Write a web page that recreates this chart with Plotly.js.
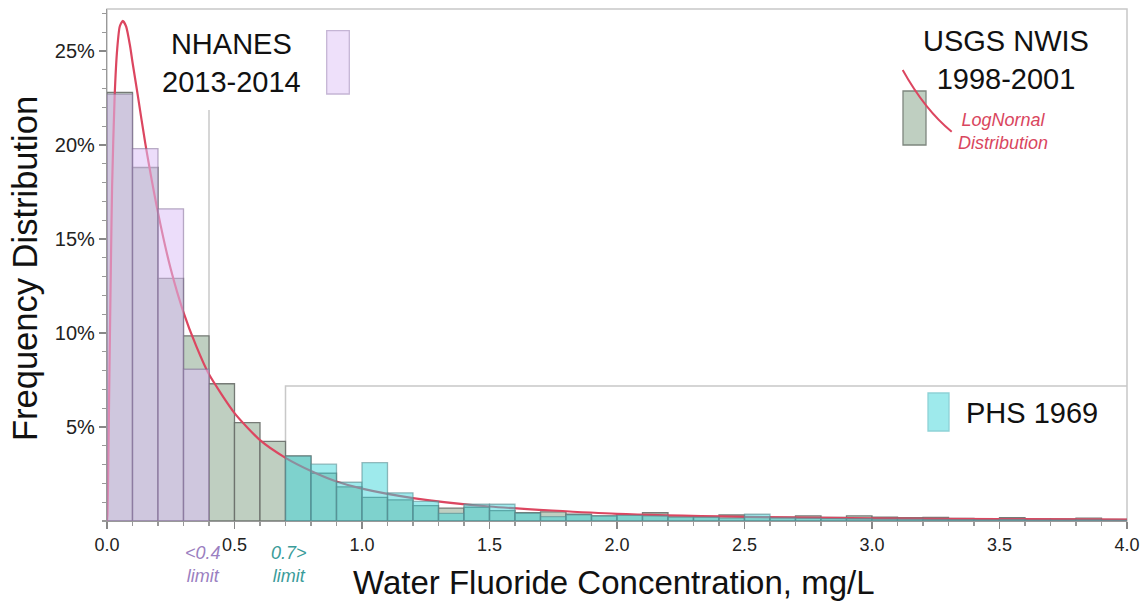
<!DOCTYPE html>
<html><head><meta charset="utf-8">
<script src="https://cdn.plot.ly/plotly-3.0.1.min.js"></script>
<style>html,body{margin:0;padding:0;background:#fff;}#chart{width:1144px;height:605px;}</style>
</head><body><div id="chart"></div>
<script>
// ---- data (percent of samples per 0.1 mg/L bin) ----
const binCenters = [0.05,0.15,0.25,0.35,0.45,0.55,0.65,0.75,0.85,0.95,1.05,1.15,1.25,1.35,1.45,1.55,1.65,1.75,1.85,1.95,2.05,2.15,2.25,2.35,2.45,2.55,2.65,2.75,2.85,2.95,3.05,3.15,3.25,3.35,3.45,3.55,3.65,3.75,3.85,3.95];
const usgsNwis = [22.8,18.8,12.9,9.85,7.3,5.23,4.24,3.46,2.54,1.82,1.26,1.12,0.82,0.68,0.73,0.55,0.44,0.49,0.36,0.27,0.34,0.44,0.28,0.23,0.32,0.22,0.2,0.27,0.19,0.27,0.2,0.18,0.19,0.14,0.13,0.18,0.11,0.11,0.15,0.09];
const nhanesCenters = [0.05,0.15,0.25,0.35];
const nhanes = [22.7,19.8,16.6,8.07];
const phsCenters = [0.75,0.85,0.95,1.05,1.15,1.25,1.35,1.45,1.55,1.65,1.75,1.85,1.95,2.05,2.15,2.25,2.35,2.45,2.55,2.65,2.75,2.85,2.95,3.05,3.15,3.25,3.35,3.45,3.55,3.65,3.75,3.85,3.95];
const phs1969 = [3.45,3.02,2.06,3.1,1.5,1.04,0.41,0.89,0.89,0.42,0.23,0.33,0.27,0.3,0.27,0.2,0.2,0.15,0.36,0.17,0.15,0.13,0.12,0.1,0.1,0.08,0.07,0.06,0.08,0.05,0.05,0.06,0.04];
const fitX = [0,0.002,0.005,0.01,0.015,0.02,0.03,0.04,0.05,0.062,0.075,0.09,0.1,0.12,0.15,0.2,0.25,0.3,0.35,0.4,0.5,0.6,0.7,0.8,0.9,1.0,1.2,1.5,2.0,2.5,3.0,3.5,4.0];
const fitY = [0,0.4,3.0,8.4,13.4,17.8,22.6,25.1,26.3,26.6,26.3,25.3,24.4,22.7,20.1,16.4,13.4,11.1,9.3,7.8,5.74,4.3,3.36,2.66,2.1,1.72,1.22,0.77,0.38,0.22,0.14,0.1,0.07];
const xTickVals = [0,0.5,1,1.5,2,2.5,3,3.5,4];
const xTickText = ['0.0','0.5','1.0','1.5','2.0','2.5','3.0','3.5','4.0'];
const yTickVals = [5,10,15,20,25];
const yTickText = ['5%','10%','15%','20%','25%'];
const lowLimit = 0.4, lowLimitTop = 21.86;
const highLimit = 0.7, highLimitTop = 7.18;
const xMax = 4, yMax = 27.23;

// ---- layout helpers (pixel -> paper) ----
const W = 1144, H = 605, mL = 107, mR = 17, mT = 9, mB = 84;
const pw = W - mL - mR, ph = H - mT - mB;
const px = v => (v - mL) / pw;
const py = v => (H - mB - v) / ph;
const FONT = 'Arial, "Liberation Sans", sans-serif';

const traces = [
  {type:'bar', x:binCenters, y:usgsNwis, width:0.1, name:'USGS NWIS',
   marker:{color:'rgb(191,207,193)', line:{color:'rgba(105,110,105,0.9)', width:1.3}}, hoverinfo:'skip'},
  {type:'scatter', mode:'lines', x:fitX, y:fitY, name:'LogNormal',
   line:{color:'#dc4660', width:2.2, shape:'spline', smoothing:0.6}, hoverinfo:'skip'},
  {type:'bar', x:nhanesCenters, y:nhanes, width:0.1, xaxis:'x2', yaxis:'y2', name:'NHANES',
   marker:{color:'rgba(221,193,245,0.55)', line:{color:'rgba(130,110,150,0.55)', width:1.3}}, hoverinfo:'skip'},
  {type:'bar', x:phsCenters, y:phs1969, width:0.1, xaxis:'x2', yaxis:'y2', name:'PHS 1969',
   marker:{color:'rgba(61,213,217,0.5)', line:{color:'rgba(90,140,145,0.6)', width:1.3}}, hoverinfo:'skip'}
];

const axBase = {
  range:[0,xMax], showgrid:false, zeroline:false, showline:true, linecolor:'#999', linewidth:1.2,
  ticks:'outside', ticklen:7, tickwidth:1.2, tickcolor:'#888',
  tickvals:xTickVals, ticktext:xTickText, tickfont:{family:FONT, size:18, color:'#222'},
  minor:{ticks:'outside', ticklen:4, tickcolor:'#999', dtick:0.1, tick0:0, showgrid:false}
};
const ayBase = {
  range:[0,yMax], showgrid:false, zeroline:false, showline:true, linecolor:'#999', linewidth:1.2,
  ticks:'outside', ticklen:7, tickwidth:1.2, tickcolor:'#888',
  tickvals:yTickVals, ticktext:yTickText, tickfont:{family:FONT, size:20, color:'#222'},
  minor:{ticks:'outside', ticklen:4, tickcolor:'#999', dtick:1, tick0:0, showgrid:false}
};

const layout = {
  width:W, height:H, margin:{l:mL, r:mR, t:mT, b:mB},
  paper_bgcolor:'#fff', plot_bgcolor:'#fff', showlegend:false, barmode:'overlay', bargap:0,
  xaxis:axBase, yaxis:ayBase,
  xaxis2:{overlaying:'x', range:[0,xMax], visible:false},
  yaxis2:{overlaying:'y', range:[0,yMax], visible:false},
  shapes:[
    {type:'rect', xref:'paper', yref:'paper', x0:0, x1:1, y0:0, y1:1, line:{color:'#c8c8c8', width:1.5}, fillcolor:'rgba(0,0,0,0)', layer:'below'},
    {type:'line', xref:'x', yref:'y', x0:lowLimit, x1:lowLimit, y0:0, y1:lowLimitTop, line:{color:'#c8c8c8', width:1.5}, layer:'below'},
    {type:'path', xref:'x', yref:'y', path:`M${highLimit},0 L${highLimit},${highLimitTop} L${xMax},${highLimitTop}`, line:{color:'#c8c8c8', width:1.5}, layer:'below'},
    {type:'rect', xref:'paper', yref:'paper', x0:px(326.7), x1:px(349.3), y0:py(94), y1:py(30.7), fillcolor:'#eee0fa', line:{color:'#c5b5d5', width:1.3}},
    {type:'rect', xref:'paper', yref:'paper', x0:px(903), x1:px(926), y0:py(145), y1:py(91), fillcolor:'#bfcfc1', line:{color:'#7d867e', width:1.3}},
    {type:'rect', xref:'paper', yref:'paper', x0:px(928), x1:px(949), y0:py(431), y1:py(393), fillcolor:'#9eeaec', line:{color:'#8ed2d6', width:1.3}},
    {type:'path', xref:'paper', yref:'paper', path:`M${px(902.7)},${py(70)} Q${px(925)},${py(110)} ${px(951.7)},${py(131.7)}`, line:{color:'#dc4660', width:2}}
  ],
  annotations:[
    {xref:'paper', yref:'paper', x:px(231.7), y:py(63), text:'NHANES<br>2013-2014', showarrow:false, xanchor:'center', yanchor:'middle', align:'center', font:{family:FONT, size:29, color:'#111'}},
    {xref:'paper', yref:'paper', x:px(1006), y:py(60), text:'USGS NWIS<br>1998-2001', showarrow:false, xanchor:'center', yanchor:'middle', align:'center', font:{family:FONT, size:29, color:'#111'}},
    {xref:'paper', yref:'paper', x:px(964), y:py(413), text:'PHS 1969', showarrow:false, xanchor:'left', yanchor:'middle', font:{family:FONT, size:29, color:'#111'}},
    {xref:'paper', yref:'paper', x:px(1003), y:py(131), text:'<i>LogNornal<br>Distribution</i>', showarrow:false, xanchor:'center', yanchor:'middle', align:'center', font:{family:FONT, size:18, color:'#d9465e'}},
    {xref:'paper', yref:'paper', x:px(203), y:py(564), text:'<i>&lt;0.4<br>limit</i>', showarrow:false, xanchor:'center', yanchor:'middle', align:'center', font:{family:FONT, size:18, color:'#9b7fc1'}},
    {xref:'paper', yref:'paper', x:px(289), y:py(564), text:'<i>0.7&gt;<br>limit</i>', showarrow:false, xanchor:'center', yanchor:'middle', align:'center', font:{family:FONT, size:18, color:'#3a9c9a'}},
    {xref:'paper', yref:'paper', x:px(614), y:py(582), text:'Water Fluoride Concentration, mg/L', showarrow:false, xanchor:'center', yanchor:'middle', font:{family:FONT, size:33, color:'#111'}},
    {xref:'paper', yref:'paper', x:px(25), y:py(269), text:'Frequency Distribution', textangle:-90, showarrow:false, xanchor:'center', yanchor:'middle', font:{family:FONT, size:34.5, color:'#111'}}
  ]
};

Plotly.newPlot('chart', traces, layout, {displayModeBar:false, staticPlot:true});
</script>
</body></html>
